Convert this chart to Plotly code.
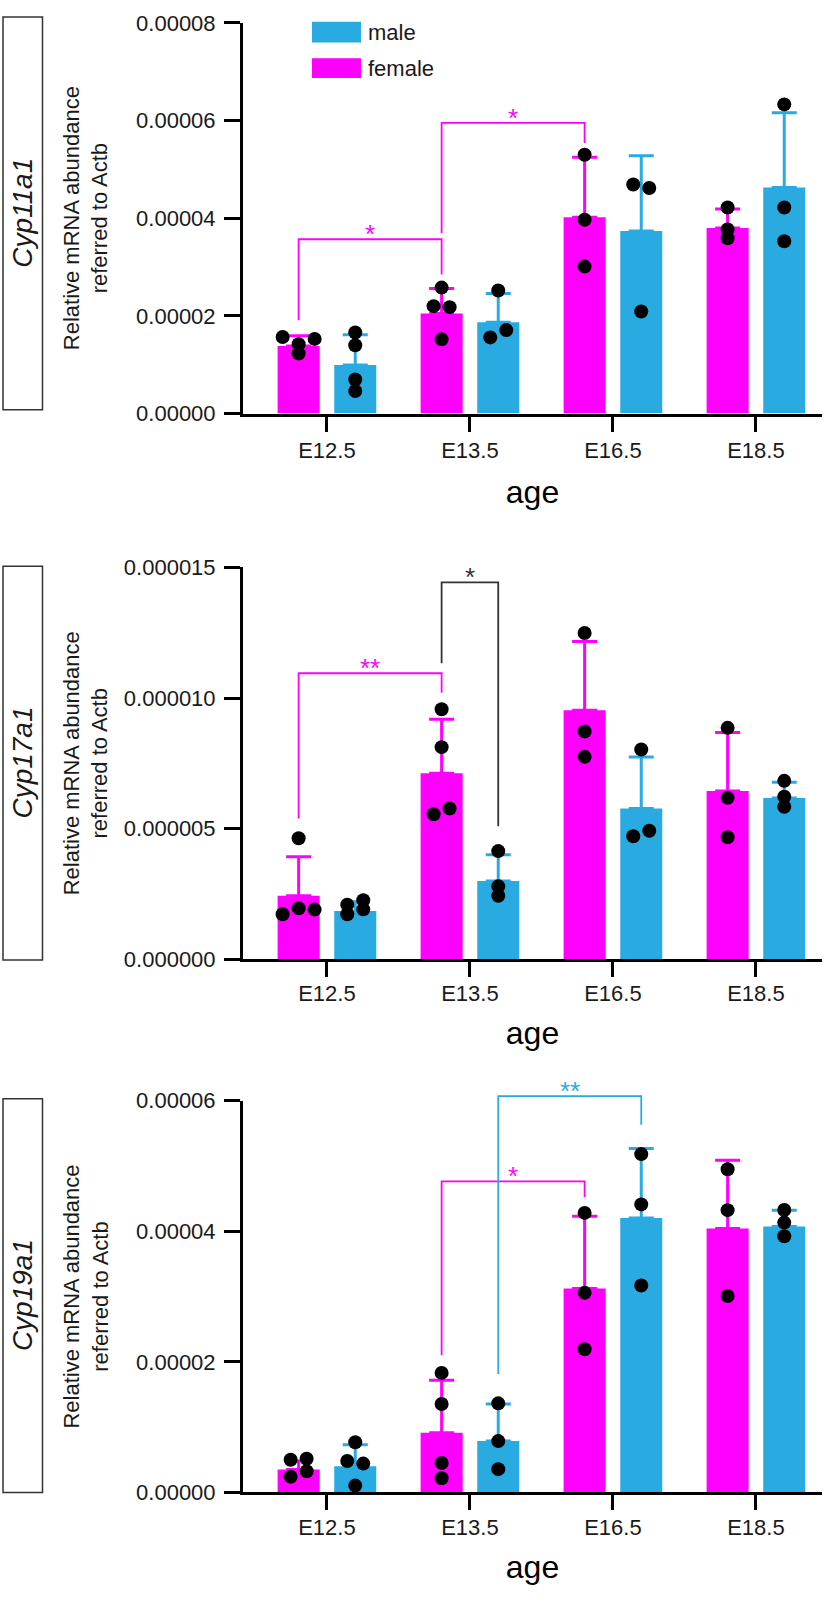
import plotly.graph_objects as go

W, H = 826, 1598

# ---------------- data ----------------
ages = ["E12.5", "E13.5", "E16.5", "E18.5"]
genes = ["Cyp11a1", "Cyp17a1", "Cyp19a1"]

# Cyp11a1
cyp11a1_female_mean = [1.384e-5, 2.05e-5, 4.02e-5, 3.80e-5]
cyp11a1_female_sd = [0.21e-5, 0.51e-5, 1.23e-5, 0.39e-5]
cyp11a1_male_mean = [0.993e-5, 1.87e-5, 3.74e-5, 4.63e-5]
cyp11a1_male_sd = [0.62e-5, 0.59e-5, 1.54e-5, 1.53e-5]
cyp11a1_female_points = [[1.57e-5, 1.53e-5, 1.42e-5, 1.23e-5],
                         [2.58e-5, 2.20e-5, 2.18e-5, 1.52e-5],
                         [5.30e-5, 3.97e-5, 3.01e-5],
                         [4.22e-5, 3.77e-5, 3.59e-5]]
cyp11a1_male_points = [[1.66e-5, 1.40e-5, 0.699e-5, 0.463e-5],
                       [2.52e-5, 1.56e-5, 1.71e-5],
                       [4.69e-5, 4.62e-5, 2.09e-5],
                       [6.33e-5, 4.22e-5, 3.53e-5]]

# Cyp17a1
cyp17a1_female_mean = [2.43e-6, 7.12e-6, 9.53e-6, 6.44e-6]
cyp17a1_female_sd = [1.49e-6, 2.07e-6, 2.64e-6, 2.24e-6]
cyp17a1_male_mean = [1.85e-6, 3.00e-6, 5.77e-6, 6.17e-6]
cyp17a1_male_sd = [0.35e-6, 1.00e-6, 1.97e-6, 0.61e-6]
cyp17a1_female_points = [[4.63e-6, 1.72e-6, 1.95e-6, 1.90e-6],
                         [9.57e-6, 8.12e-6, 5.55e-6, 5.77e-6],
                         [12.49e-6, 8.72e-6, 7.75e-6],
                         [8.86e-6, 6.18e-6, 4.67e-6]]
cyp17a1_male_points = [[2.09e-6, 1.72e-6, 2.26e-6, 1.91e-6],
                       [4.14e-6, 2.79e-6, 2.43e-6],
                       [8.03e-6, 4.71e-6, 4.92e-6],
                       [6.83e-6, 6.22e-6, 5.84e-6]]

# Cyp19a1
cyp19a1_female_mean = [0.351e-5, 0.915e-5, 3.124e-5, 4.044e-5]
cyp19a1_female_sd = [0.13e-5, 0.802e-5, 1.107e-5, 1.044e-5]
cyp19a1_male_mean = [0.401e-5, 0.787e-5, 4.205e-5, 4.075e-5]
cyp19a1_male_sd = [0.331e-5, 0.568e-5, 1.064e-5, 0.249e-5]
cyp19a1_female_points = [[0.502e-5, 0.517e-5, 0.241e-5, 0.326e-5],
                         [1.831e-5, 1.355e-5, 0.451e-5, 0.217e-5],
                         [4.282e-5, 3.057e-5, 2.193e-5],
                         [4.95e-5, 4.324e-5, 3.01e-5]]
cyp19a1_male_points = [[0.769e-5, 0.482e-5, 0.442e-5, 0.105e-5],
                       [1.365e-5, 0.787e-5, 0.357e-5],
                       [5.182e-5, 4.412e-5, 3.17e-5],
                       [4.327e-5, 4.133e-5, 3.925e-5]]

# y-axis ticks
cyp11a1_tickvals = [0, 2e-5, 4e-5, 6e-5, 8e-5]
cyp11a1_ticktext = ["0.00000", "0.00002", "0.00004", "0.00006", "0.00008"]
cyp17a1_tickvals = [0, 5e-6, 10e-6, 15e-6]
cyp17a1_ticktext = ["0.000000", "0.000005", "0.000010", "0.000015"]
cyp19a1_tickvals = [0, 2e-5, 4e-5, 6e-5]
cyp19a1_ticktext = ["0.00000", "0.00002", "0.00004", "0.00006"]

# significance brackets: (from age idx, from sex, to age idx, to sex, bar height, left foot, right foot, label, colour)
cyp11a1_brackets = [(0, "F", 1, "F", 3.57e-5, 1.91e-5, 2.85e-5, "*", "magenta"),
                    (1, "F", 2, "F", 5.95e-5, 3.69e-5, 5.54e-5, "*", "magenta")]
cyp17a1_brackets = [(0, "F", 1, "F", 1.095e-5, 5.39e-6, 1.02e-5, "**", "magenta"),
                    (1, "F", 1, "M", 1.443e-5, 1.133e-5, 5.09e-6, "*", "black")]
cyp19a1_brackets = [(1, "F", 2, "F", 4.763e-5, 2.10e-5, 4.52e-5, "*", "magenta"),
                    (1, "M", 2, "M", 6.07e-5, 1.815e-5, 5.63e-5, "**", "blue")]

# ---------------- layout / style (positions) ----------------
female_jitter_px = [
    [[-16, 16, 0, 0], [0, -8, 8, 0], [0, 0, 0], [0, 0, 0]],
    [[0, -16, 0, 16], [0, 0, -8, 8], [0, 0, 0], [0, 0, 0]],
    [[-8, 8, -8, 8], [0, 0, 0, 0], [0, 0, 0], [0, 0, 0]],
]
male_jitter_px = [
    [[0, 0, 0, 0], [0, -8, 8], [-8, 8, 0], [0, 0, 0]],
    [[-8, -8, 8, 8], [0, 0, 0], [0, -8, 8], [0, 0, 0]],
    [[0, -8, 8, 0], [0, 0, 0], [0, 0, 0], [0, 0, 0]],
]

MAGENTA = "#FF00FF"
BLUE = "#29ABE2"
COLORS = {"magenta": MAGENTA, "blue": BLUE, "black": "#333333"}
FONT = "Liberation Sans, Arial, Helvetica, sans-serif"

X_RANGE = [-0.587, 3.462]
X_DOM_PX = (243, 822)
CAT_PX = (X_DOM_PX[1] - X_DOM_PX[0]) / (X_RANGE[1] - X_RANGE[0])
BAR_OFFSET = 0.198
BAR_WIDTH = 0.294

# (bottom px, top px) of each y-axis
Y_DOM_PX = [(408, 11), (962.3, 564.3), (1504, 1106)]
BOX_PX = [(404, 5), (963, 563), (1504, 1104)]
XLABEL_STANDOFF = [0, -3, -2]
XTITLE_STANDOFF = [19, 17, 17]

panels = [
    dict(gene=genes[0], fm=cyp11a1_female_mean, fs=cyp11a1_female_sd, mm=cyp11a1_male_mean,
         ms=cyp11a1_male_sd, fp=cyp11a1_female_points, mp=cyp11a1_male_points,
         tv=cyp11a1_tickvals, tt=cyp11a1_ticktext, br=cyp11a1_brackets),
    dict(gene=genes[1], fm=cyp17a1_female_mean, fs=cyp17a1_female_sd, mm=cyp17a1_male_mean,
         ms=cyp17a1_male_sd, fp=cyp17a1_female_points, mp=cyp17a1_male_points,
         tv=cyp17a1_tickvals, tt=cyp17a1_ticktext, br=cyp17a1_brackets),
    dict(gene=genes[2], fm=cyp19a1_female_mean, fs=cyp19a1_female_sd, mm=cyp19a1_male_mean,
         ms=cyp19a1_male_sd, fp=cyp19a1_female_points, mp=cyp19a1_male_points,
         tv=cyp19a1_tickvals, tt=cyp19a1_ticktext, br=cyp19a1_brackets),
]


def py(ypx):
    return 1 - ypx / H


def pxx(xpx):
    return xpx / W


fig = go.Figure()
shapes = []
annotations = []
layout_axes = {}

side_off = {"F": -BAR_OFFSET, "M": BAR_OFFSET}

for k, p in enumerate(panels):
    n = "" if k == 0 else str(k + 1)
    xa, ya = "x" + n, "y" + n
    d0, d1 = py(Y_DOM_PX[k][0]), py(Y_DOM_PX[k][1])
    ymax = p["tv"][-1]

    series = [("F", p["fm"], p["fs"], p["fp"], female_jitter_px[k], MAGENTA),
              ("M", p["mm"], p["ms"], p["mp"], male_jitter_px[k], BLUE)]
    for side, mean, sd, pts, jit, color in series:
        off = side_off[side]
        fig.add_trace(go.Bar(
            x=[i + off for i in range(len(ages))], y=mean, width=BAR_WIDTH,
            marker=dict(color=color, line=dict(width=0)),
            error_y=dict(type="data", symmetric=False, array=sd, arrayminus=[0] * len(sd),
                         color=color, thickness=3, width=12.5),
            xaxis=xa, yaxis=ya, showlegend=False, hoverinfo="skip"))
    for side, mean, sd, pts, jit, color in series:
        off = side_off[side]
        xs, ys = [], []
        for i, (vals, js) in enumerate(zip(pts, jit)):
            for v, j in zip(vals, js):
                xs.append(i + off + j / CAT_PX)
                ys.append(v)
        fig.add_trace(go.Scatter(x=xs, y=ys, mode="markers",
                                 marker=dict(color="black", size=14, line=dict(width=0)),
                                 xaxis=xa, yaxis=ya, showlegend=False, hoverinfo="skip",
                                 cliponaxis=False))

    # brackets
    def vy(v):
        return d0 + v / ymax * (d1 - d0)

    for (i1, s1, i2, s2, yh, yb1, yb2, label, cname) in p["br"]:
        c = COLORS[cname]
        x1 = i1 + side_off[s1]
        x2 = i2 + side_off[s2]
        shapes.append(dict(type="path", xref=xa, yref="paper",
                           path=f"M {x1},{vy(yb1)} L {x1},{vy(yh)} L {x2},{vy(yh)} L {x2},{vy(yb2)}",
                           line=dict(color=c, width=1.8)))
        annotations.append(dict(x=(x1 + x2) / 2, y=vy(yh), xref=xa, yref="paper",
                                text=label, showarrow=False, yanchor="middle", xanchor="center",
                                yshift=5, font=dict(size=26, color=c, family=FONT)))

    # axes
    layout_axes["xaxis" + n] = dict(
        domain=[pxx(X_DOM_PX[0]), pxx(X_DOM_PX[1])], anchor=ya, range=X_RANGE,
        tickvals=list(range(len(ages))), ticktext=ages, showline=True, linecolor="black",
        linewidth=3, ticks="outside", ticklen=15, tickwidth=3, tickcolor="black",
        showgrid=False, zeroline=False, ticklabelstandoff=XLABEL_STANDOFF[k],
        tickfont=dict(size=22, color="#1a1a1a", family=FONT),
        title=dict(text="age", font=dict(size=32, color="black", family=FONT),
                   standoff=XTITLE_STANDOFF[k]))
    layout_axes["yaxis" + n] = dict(
        domain=[d0, d1], anchor=xa, range=[0, ymax], tickvals=p["tv"], ticktext=p["tt"],
        showline=True, linecolor="black", linewidth=3, ticks="outside", ticklen=16,
        tickwidth=3, tickcolor="black", showgrid=False, zeroline=False,
        ticklabelstandoff=4, tickfont=dict(size=22, color="#1a1a1a", family=FONT))

    # y-axis title
    annotations.append(dict(x=pxx(86), y=(d0 + d1) / 2, xref="paper", yref="paper",
                            text="Relative mRNA abundance<br>referred to Actb", textangle=-90,
                            showarrow=False, xanchor="center", yanchor="middle",
                            font=dict(size=22, color="#1a1a1a", family=FONT)))
    # gene name box
    b0, b1 = py(BOX_PX[k][0]), py(BOX_PX[k][1])
    shapes.append(dict(type="rect", xref="paper", yref="paper", x0=pxx(3), x1=pxx(42.5),
                       y0=b0, y1=b1, line=dict(color="#333333", width=1.5), fillcolor="rgba(0,0,0,0)"))
    annotations.append(dict(x=pxx(22.5), y=(b0 + b1) / 2, xref="paper", yref="paper",
                            text="<i>" + p["gene"] + "</i>", textangle=-90, showarrow=False,
                            xanchor="center", yanchor="middle",
                            font=dict(size=28, color="#1a1a1a", family=FONT)))

# legend (drawn)
legend_items = [("male", BLUE, 10, 31), ("female", MAGENTA, 47, 67)]
for name, col, top, bot in legend_items:
    shapes.append(dict(type="rect", xref="paper", yref="paper", x0=pxx(312), x1=pxx(361),
                       y0=py(bot), y1=py(top), line=dict(width=0), fillcolor=col))
    annotations.append(dict(x=pxx(366), y=py((top + bot) / 2), xref="paper", yref="paper",
                            text=name, showarrow=False, xanchor="left", yanchor="middle",
                            font=dict(size=22, color="#1a1a1a", family=FONT)))

fig.update_layout(
    width=W, height=H, margin=dict(l=0, r=0, t=0, b=0),
    paper_bgcolor="white", plot_bgcolor="white", barmode="overlay",
    showlegend=False, shapes=shapes, annotations=annotations,
    font=dict(family=FONT), **layout_axes)

fig.write_html("out.html", config={"displayModeBar": False, "staticPlot": True},
               post_script="document.body.style.margin='0';document.body.style.overflow='hidden';")
